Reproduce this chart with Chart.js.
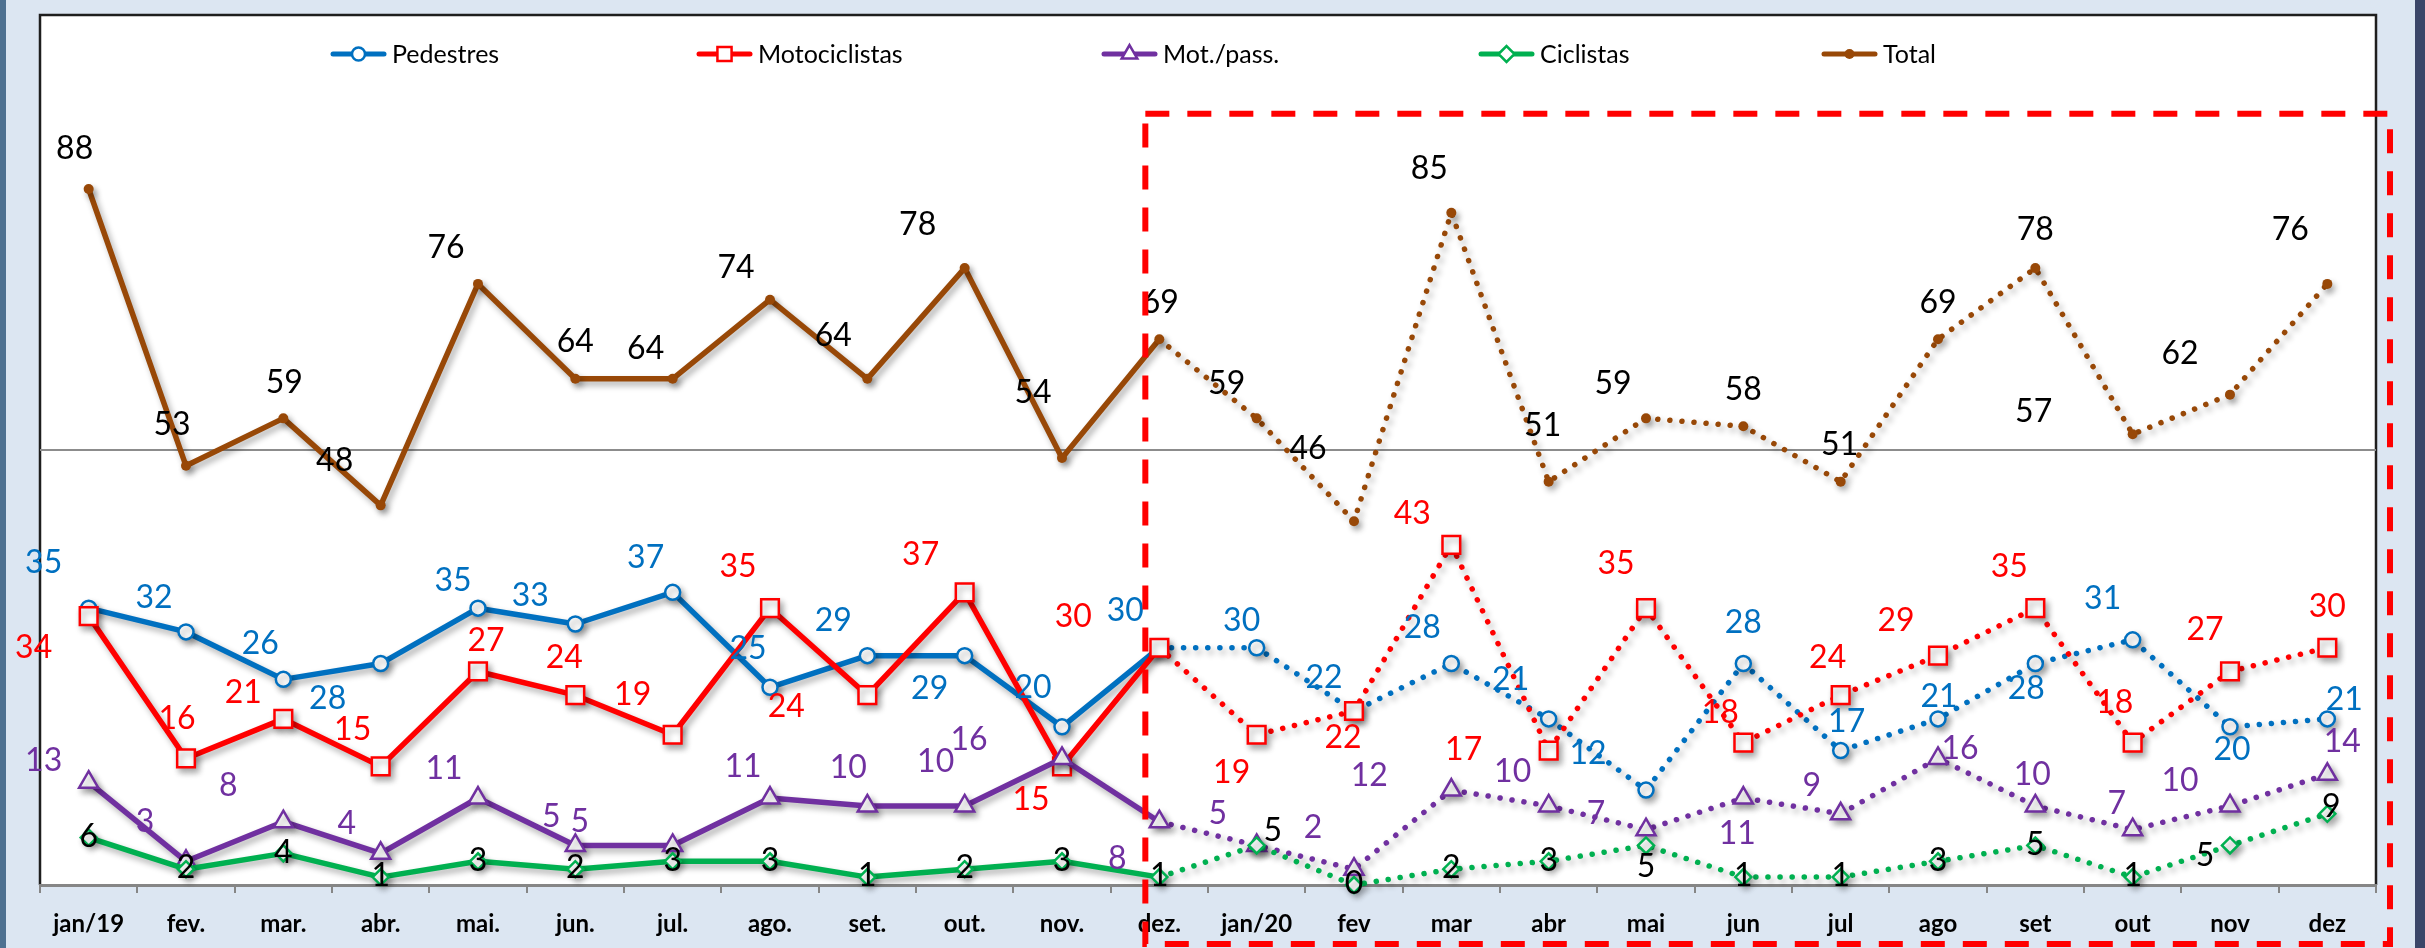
<!DOCTYPE html>
<html>
<head>
<meta charset="utf-8">
<script src="https://cdn.jsdelivr.net/npm/chart.js@4/dist/chart.umd.min.js"></script>
<style>
  html, body { margin: 0; padding: 0; background: #dce6f2; }
  canvas { display: block; }
</style>
</head>
<body>
<canvas id="acidentes" width="2425" height="948"></canvas>
<script>
/* Vítimas por mês, 2019 (linhas cheias) e 2020 (pontilhado) */

const months = ['jan/19', 'fev.', 'mar.', 'abr.', 'mai.', 'jun.', 'jul.', 'ago.', 'set.', 'out.', 'nov.', 'dez.',
                'jan/20', 'fev', 'mar', 'abr', 'mai', 'jun', 'jul', 'ago', 'set', 'out', 'nov', 'dez'];
const pedestres     = [35, 32, 26, 28, 35, 33, 37, 25, 29, 29, 20, 30,  30, 22, 28, 21, 12, 28, 17, 21, 28, 31, 20, 21];
const motociclistas = [34, 16, 21, 15, 27, 24, 19, 35, 24, 37, 15, 30,  19, 22, 43, 17, 35, 18, 24, 29, 35, 18, 27, 30];
const motPass       = [13,  3,  8,  4, 11,  5,  5, 11, 10, 10, 16,  8,   5,  2, 12, 10,  7, 11,  9, 16, 10,  7, 10, 14];
const ciclistas     = [ 6,  2,  4,  1,  3,  2,  3,  3,  1,  2,  3,  1,   5,  0,  2,  3,  5,  1,  1,  3,  5,  1,  5,  9];
const total         = [88, 53, 59, 48, 76, 64, 64, 74, 64, 78, 54, 69,  59, 46, 85, 51, 59, 58, 51, 69, 78, 57, 62, 76];
const seriesNames = ['Pedestres', 'Motociclistas', 'Mot./pass.', 'Ciclistas', 'Total'];

// where each value label sits relative to its point (like the hand-moved labels in the original)
const shiftPed = [[-45,-44],[-32,-33],[-23,-35],[-53,36],[-25,-26],[-45,-27],[-27,-34],[-22,-38],[-34,-34],[-35,34],[-29,-38],[-34,-36],
                  [-15,-26],[-30,-32],[-29,-35],[-38,-38],[-58,-35],[0,-40],[6,-28],[1,-21],[-9,26],[-30,-40],[2,24],[17,-18]];
const shiftMoto = [[-55,33],[-9,-39],[-40,-25],[-28,-36],[8,-30],[-11,-36],[-40,-39],[-32,-40],[-81,13],[-44,-37],[-31,34],[-86,-30],
                   [-25,39],[-11,28],[-39,-30],[-85,0],[-30,-43],[-23,-29],[-13,-36],[-42,-34],[-26,-40],[-18,-39],[-25,-41],[0,-40]];
const shiftMP = [[-45,-20],[-41,-39],[-55,-35],[-34,-29],[-34,-28],[-24,-28],[-93,-23],[-27,-30],[-19,-37],[-29,-43],[-93,-18],[-42,38],
                 [-39,-31],[-41,-40],[-82,-13],[-36,-33],[-50,-15],[-6,37],[-29,-27],[22,-9],[-3,-30],[-16,-25],[-50,-24],[15,-32]];
const shiftCic = [[0,0],[0,0],[0,0],[0,0],[0,0],[0,0],[0,0],[0,0],[0,0],[0,0],[0,0],[0,0],
                  [16,-14],[0,0],[0,0],[0,0],[0,22],[0,0],[0,0],[0,0],[0,0],[0,0],[-25,11],[4,-6]];
const shiftTot = [[-14,-39],[-14,-40],[1,-35],[-46,-44],[-32,-35],[0,-36],[-27,-29],[-34,-31],[-34,-42],[-47,-42],[-29,-64],[1,-36],
                  [-30,-34],[-46,-71],[-22,-43],[-6,-55],[-33,-34],[0,-36],[-1,-36],[0,-36],[0,-37],[-99,-21],[-50,-40],[-37,-53]];
const labelShifts = [shiftPed, shiftMoto, shiftMP, shiftCic, shiftTot];
const labelColors = ['#0070c0', '#ff0000', '#7030a0', '#000000', '#000000'];

// legend row (left edge of each symbol) and its height
const legendX = [330, 696, 1101, 1478, 1821];
const legendY = 54;

const FONT = 'Lato, "Liberation Sans", sans-serif';
const FIRST_2020 = 11; // segments after dez/19 are dotted

function serie(label, data, color, style, radius, fill) {
    return {
        label: label,
        data: data,
        borderColor: color,
        backgroundColor: color,
        borderWidth: 5.5,
        borderCapStyle: 'round',
        borderJoinStyle: 'round',
        tension: 0,
        pointStyle: style,
        pointRadius: radius,
        pointHoverRadius: radius,
        pointBorderWidth: fill ? 0 : 2.5,
        pointBackgroundColor: fill ? color : '#ffffff',
        pointBorderColor: color,
        clip: false,
        segment: {
            borderDash: c => c.p0DataIndex >= FIRST_2020 ? [0.1, 12] : undefined
        }
    };
}

// legend symbol: short line with the marker in the middle
function legendSymbol(ds) {
    const cv = document.createElement('canvas');
    cv.width = 57; cv.height = 24;
    const g = cv.getContext('2d');
    g.strokeStyle = ds.borderColor;
    g.lineWidth = 5;
    g.lineCap = 'round';
    g.beginPath(); g.moveTo(3, 12); g.lineTo(54, 12); g.stroke();
    const r = {circle: 6.5, rect: 10, triangle: 9, rectRot: 8}[ds.pointStyle];
    g.fillStyle = ds.pointBackgroundColor;
    g.strokeStyle = ds.pointBorderColor;
    g.lineWidth = ds.pointBorderWidth;
    Chart.helpers.drawPoint(g, {
        pointStyle: ds.pointStyle,
        radius: ds.pointBorderWidth ? r : ds.pointRadius,
        borderWidth: ds.pointBorderWidth,
        rotation: 0
    }, 28.5, 12);
    return cv;
}

const decor = {
    id: 'decor',
    beforeDraw(chart) {
        const {ctx, chartArea: a, width, height} = chart;
        ctx.save();
        ctx.fillStyle = '#dce6f2';
        ctx.fillRect(0, 0, width, height);
        ctx.fillStyle = '#4e7191';
        ctx.fillRect(0, 0, 6, height);
        ctx.fillStyle = '#3a4568';
        ctx.fillRect(width - 10, 0, 10, height);
        ctx.fillStyle = '#ffffff';
        ctx.fillRect(a.left, a.top, a.right - a.left, a.bottom - a.top);
        ctx.strokeStyle = '#1e1e1e';
        ctx.lineWidth = 2.5;
        ctx.beginPath();
        ctx.moveTo(a.left, a.bottom); ctx.lineTo(a.left, a.top);
        ctx.lineTo(a.right, a.top); ctx.lineTo(a.right, a.bottom);
        ctx.stroke();

        // legend inside the plot area, one row
        ctx.font = '25px ' + FONT;
        ctx.textBaseline = 'middle';
        ctx.textAlign = 'left';
        ctx.fillStyle = '#000000';
        chart.data.datasets.forEach((ds, i) => {
            ctx.drawImage(legendSymbol(ds), legendX[i], legendY - 12);
            ctx.fillText(ds.label, legendX[i] + 62, legendY + 1);
        });
        ctx.restore();
    },
    beforeDatasetsDraw(chart) {
        const ctx = chart.ctx;
        ctx.save();
        ctx.shadowColor = 'rgba(0,0,0,0.32)';
        ctx.shadowBlur = 6;
        ctx.shadowOffsetX = 3;
        ctx.shadowOffsetY = 4;
    },
    afterDatasetsDraw(chart) {
        const ctx = chart.ctx;
        ctx.restore();
        ctx.save();
        ctx.font = '32px ' + FONT;
        ctx.textAlign = 'center';
        ctx.textBaseline = 'middle';
        chart.data.datasets.forEach((ds, i) => {
            const meta = chart.getDatasetMeta(i);
            ctx.fillStyle = labelColors[i];
            meta.data.forEach((pt, j) => {
                const s = labelShifts[i][j];
                ctx.fillText(String(ds.data[j]), pt.x + s[0], pt.y + s[1] - 1);
            });
        });
        ctx.restore();
    },
    afterDraw(chart) {
        const {ctx, chartArea: a, height, scales} = chart;
        const left = scales.x.getPixelForValue(FIRST_2020) - 14;
        const top = scales.y.getPixelForValue(97.5);
        const right = a.right + 14;
        const bottom = height - 4;
        ctx.save();
        ctx.strokeStyle = '#ff0000';
        ctx.lineWidth = 6;
        ctx.setLineDash([24, 18]);
        ctx.beginPath();
        ctx.moveTo(left, top);
        ctx.lineTo(right, top);
        ctx.lineTo(right, bottom);
        ctx.lineTo(left, bottom);
        ctx.closePath();
        ctx.stroke();
        ctx.restore();
    }
};

new Chart(document.getElementById('acidentes'), {
    type: 'line',
    data: {
        labels: months,
        datasets: [
            Object.assign(serie(seriesNames[0], pedestres, '#0070c0', 'circle', 7.5, false), {order: 5}),
            Object.assign(serie(seriesNames[1], motociclistas, '#ff0000', 'rect', 12.5, false), {order: 4}),
            Object.assign(serie(seriesNames[2], motPass, '#7030a0', 'triangle', 11, false), {order: 3}),
            Object.assign(serie(seriesNames[3], ciclistas, '#00b050', 'rectRot', 8, false), {order: 2}),
            Object.assign(serie(seriesNames[4], total, '#984807', 'circle', 5, true), {order: 1})
        ]
    },
    options: {
        responsive: false,
        animation: false,
        devicePixelRatio: 1,
        layout: { padding: { left: 40, right: 49, top: 6, bottom: 0 } },
        plugins: {
            tooltip: { enabled: false },
            legend: { display: false }
        },
        scales: {
            x: {
                offset: true,
                grid: {
                    offset: true,
                    drawOnChartArea: false,
                    drawTicks: true,
                    tickLength: 8,
                    color: '#868686',
                    lineWidth: 2
                },
                border: { color: '#868686', width: 3 },
                ticks: {
                    autoSkip: false,
                    maxRotation: 0,
                    padding: 17,
                    color: '#000000',
                    font: { family: FONT, size: 24, weight: 'bold' }
                },
                afterFit: s => { s.height = 63; }
            },
            y: {
                min: 0,
                max: 110,
                ticks: { display: false, stepSize: 55 },
                grid: {
                    drawTicks: false,
                    lineWidth: 2,
                    color: c => (c.tick && c.tick.value === 55) ? '#8c8c8c' : 'rgba(0,0,0,0)'
                },
                border: { display: false },
                afterFit: s => { s.width = 0; }
            }
        }
    },
    plugins: [decor]
});
</script>
</body>
</html>
